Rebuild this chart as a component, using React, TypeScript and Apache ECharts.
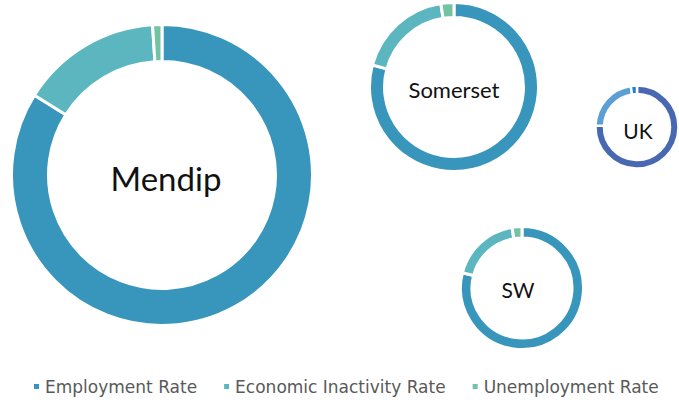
import React, { useEffect, useRef } from "react";
import * as echarts from "echarts";

const categories = ["Employment Rate", "Economic Inactivity Rate", "Unemployment Rate"];
const areas = ["Mendip", "Somerset", "UK", "SW"];
const mendipValues = [83.9, 15.1, 1.0];
const somersetValues = [79.2, 18.3, 2.5];
const ukValues = [75.6, 22.0, 2.4];
const swValues = [79.0, 18.4, 2.6];

const tealColors = ["#3896bc", "#5bb6c0", "#74c2a4"];
const blueColors = ["#4868b2", "#5b9fd6", "#1f80d0"];

export default function App() {
  const ref = useRef<HTMLDivElement>(null);
  useEffect(() => {
    if (!ref.current) return;
    const chart = echarts.init(ref.current, null, { renderer: "svg" });

    const layouts = [
      { name: areas[0], values: mendipValues, colors: tealColors, center: [162, 175], radius: [113.5, 150.5], border: 3, font: 33, ty: 178, dx: 4 },
      { name: areas[1], values: somersetValues, colors: tealColors, center: [454, 87], radius: [69.5, 84.5], border: 3, font: 22, ty: 89, dx: 0 },
      { name: areas[2], values: ukValues, colors: blueColors, center: [637, 127], radius: [33, 41.5], border: 2.5, font: 21, ty: 130, dx: 1 },
      { name: areas[3], values: swValues, colors: tealColors, center: [522, 288], radius: [50, 61.5], border: 3, font: 21, ty: 289, dx: -4 },
    ];

    const series = layouts.map((l) => ({
      type: "pie",
      name: l.name,
      center: l.center,
      radius: l.radius,
      startAngle: 90,
      clockwise: true,
      silent: true,
      label: { show: false },
      labelLine: { show: false },
      emphasis: { disabled: true },
      itemStyle: { borderColor: "#ffffff", borderWidth: l.border },
      data: categories.map((c, i) => ({
        name: c,
        value: l.values[i],
        itemStyle: { color: l.colors[i] },
      })),
    }));

    const graphic = layouts.map((l) => ({
      type: "text",
      x: l.center[0] + l.dx,
      y: l.ty,
      style: {
        text: l.name,
        fill: "#111111",
        font: `400 ${l.font}px Lato, sans-serif`,
        align: "center",
        verticalAlign: "middle",
      },
    }));

    chart.setOption({
      animation: false,
      backgroundColor: "#ffffff",
      legend: {
        data: categories,
        left: 32,
        top: 378,
        icon: "rect",
        itemWidth: 7,
        itemHeight: 7,
        itemGap: 25,
        padding: 0,
        selectedMode: false,
        textStyle: { color: "#595959", fontSize: 17, fontFamily: "DejaVu Sans" },
      },
      graphic,
      series,
    });
    return () => chart.dispose();
  }, []);
  return (
    <div
      ref={ref}
      style={{ position: "absolute", left: 0, top: 0, width: 679, height: 403 }}
    />
  );
}
